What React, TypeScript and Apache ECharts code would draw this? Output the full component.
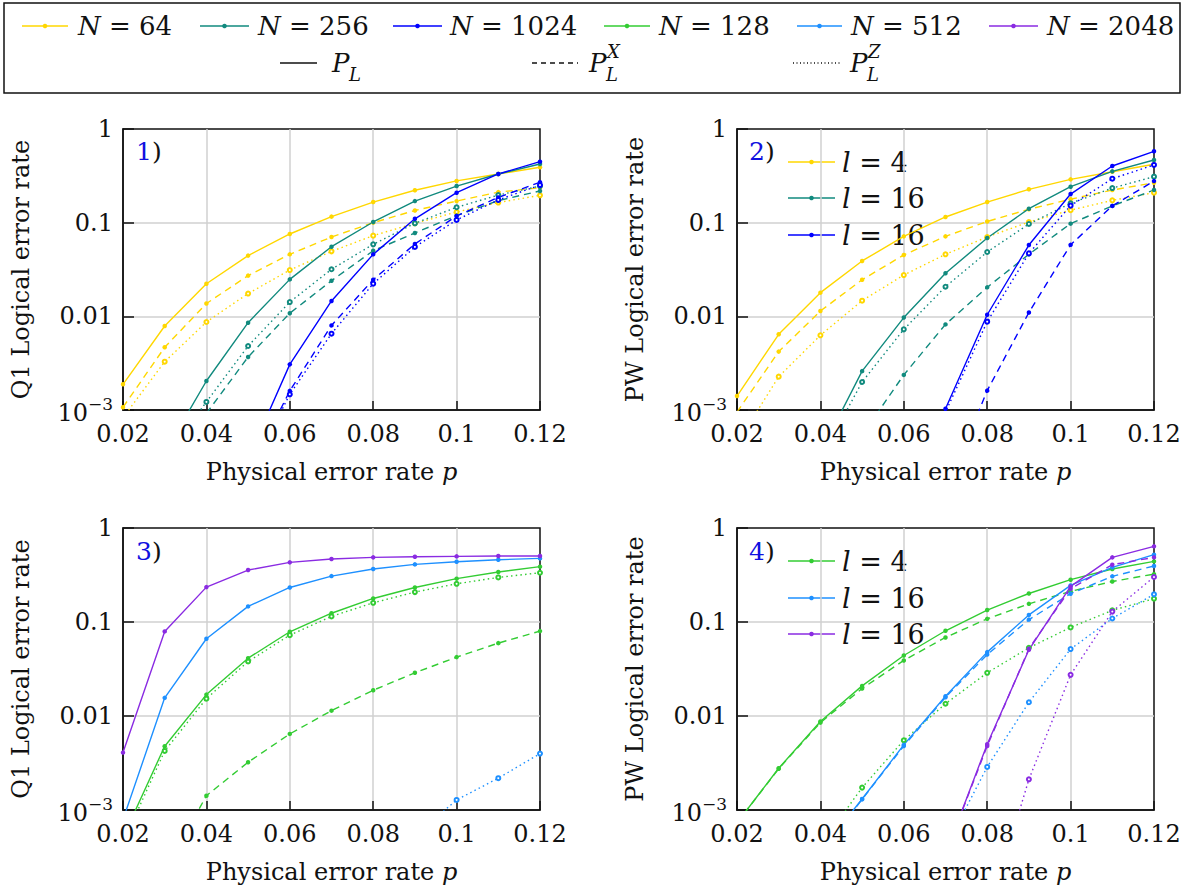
import React, { useEffect, useRef } from 'react';
import * as echarts from 'echarts';

const FONT = '"DejaVu Serif", serif';
const INK = '#111111';

// Physical error rates (x)
const P = [0.02, 0.03, 0.04, 0.05, 0.06, 0.07, 0.08, 0.09, 0.1, 0.11, 0.12];

const YELLOW = '#ffd700';
const TEAL = '#118a7e';
const BLUE = '#0000ff';
const GREEN = '#33cc33';
const LIGHTBLUE = '#1e90ff';
const PURPLE = '#8a2be2';

// Panel 1: Q1, N = 64 / 256 / 1024
const q1N64PL = [0.00188, 0.00788, 0.0223, 0.0445, 0.0757, 0.116, 0.166, 0.222, 0.279, 0.331, 0.39];
const q1N64PX = [0.00107, 0.00467, 0.0137, 0.0272, 0.0459, 0.0703, 0.1, 0.135, 0.17, 0.212, 0.236];
const q1N64PZ = [0.00083, 0.00328, 0.0087, 0.0175, 0.0312, 0.0494, 0.0727, 0.0984, 0.13, 0.164, 0.196];
const q1N256PL = [null, 0.00035, 0.00204, 0.00855, 0.0248, 0.0554, 0.1017, 0.17, 0.246, 0.331, 0.423];
const q1N256PX = [null, null, 0.00092, 0.00368, 0.0108, 0.024, 0.0502, 0.0776, 0.119, 0.172, 0.218];
const q1N256PZ = [null, 0.0003, 0.00122, 0.00482, 0.0142, 0.0318, 0.0587, 0.0984, 0.146, 0.197, 0.246];
const q1N1024PL = [null, null, null, 0.0003, 0.00307, 0.0146, 0.0459, 0.11, 0.209, 0.331, 0.448];
const q1N1024PX = [null, null, null, 0.00021, 0.0016, 0.008, 0.0246, 0.0592, 0.118, 0.186, 0.27];
const q1N1024PZ = [null, null, null, 0.0002, 0.00147, 0.00653, 0.0223, 0.055, 0.107, 0.175, 0.252];

// Panel 2: PW, l = 4 / 16 / 16
const pwA4PL = [0.00141, 0.00643, 0.0179, 0.039, 0.0714, 0.115, 0.166, 0.227, 0.29, 0.35, 0.42];
const pwA4PX = [0.00095, 0.0042, 0.0114, 0.0246, 0.0452, 0.0714, 0.103, 0.139, 0.178, 0.223, 0.267];
const pwA4PZ = [0.00044, 0.00227, 0.00627, 0.0147, 0.0276, 0.0459, 0.0703, 0.1016, 0.136, 0.173, 0.209];
const pwA16PL = [null, null, 0.00035, 0.0026, 0.0097, 0.0288, 0.0686, 0.141, 0.242, 0.353, 0.467];
const pwA16PX = [null, null, null, 0.00054, 0.00237, 0.0082, 0.0204, 0.046, 0.0976, 0.151, 0.223];
const pwA16PZ = [null, null, 0.0003, 0.00199, 0.00726, 0.0207, 0.0486, 0.0968, 0.161, 0.234, 0.31];
const pwB16PL = [null, null, null, null, 0.0001, 0.00103, 0.0104, 0.0577, 0.202, 0.403, 0.578];
const pwB16PX = [null, null, null, null, null, 0.00013, 0.00161, 0.011, 0.058, 0.151, 0.278];
const pwB16PZ = [null, null, null, null, 0.0001, 0.00095, 0.00877, 0.047, 0.152, 0.295, 0.413];

// Panel 3: Q1, N = 128 / 512 / 2048
const q1N128PL = [0.00051, 0.00477, 0.0169, 0.0412, 0.0787, 0.124, 0.178, 0.233, 0.289, 0.34, 0.388];
const q1N128PX = [null, 0.00022, 0.00142, 0.00322, 0.00645, 0.0114, 0.0188, 0.0288, 0.0423, 0.0596, 0.08];
const q1N128PZ = [0.00045, 0.00425, 0.0153, 0.038, 0.0725, 0.1146, 0.16, 0.208, 0.255, 0.298, 0.334];
const q1N512PL = [0.00079, 0.0156, 0.0663, 0.1465, 0.233, 0.308, 0.366, 0.41, 0.438, 0.46, 0.475];
const q1N512PZ = [null, null, null, null, null, null, null, 0.00053, 0.00128, 0.00218, 0.00398];
const q1N2048PL = [0.00408, 0.0794, 0.235, 0.357, 0.431, 0.468, 0.487, 0.495, 0.499, 0.503, 0.503];

// Panel 4: PW, l = 4 / 16 / 16
const pwC4PL = [0.00073, 0.00278, 0.00873, 0.0209, 0.044, 0.0807, 0.134, 0.201, 0.282, 0.366, 0.442];
const pwC4PX = [0.00073, 0.00275, 0.0085, 0.0196, 0.039, 0.0685, 0.108, 0.156, 0.212, 0.27, 0.323];
const pwC4PZ = [null, null, 0.00042, 0.00173, 0.00552, 0.0135, 0.0288, 0.0532, 0.0875, 0.133, 0.177];
const pwC16PL = [null, null, 0.00036, 0.00131, 0.00493, 0.01625, 0.0478, 0.119, 0.245, 0.381, 0.52];
const pwC16PX = [null, null, 0.00034, 0.0013, 0.0048, 0.0158, 0.045, 0.106, 0.2, 0.306, 0.394];
const pwC16PZ = [null, null, null, null, null, 0.0004, 0.00287, 0.014, 0.0515, 0.109, 0.197];
const pwD16PL = [null, null, null, null, null, 0.00034, 0.00501, 0.0506, 0.239, 0.487, 0.638];
const pwD16PX = [null, null, null, null, null, 0.00034, 0.0048, 0.052, 0.226, 0.407, 0.487];
const pwD16PZ = [null, null, null, null, null, null, 0.00007, 0.00212, 0.0274, 0.129, 0.301];

const LEGEND_N = ['64', '256', '1024', '128', '512', '2048'];
const LEGEND_N_COLORS = [YELLOW, TEAL, BLUE, GREEN, LIGHTBLUE, PURPLE];
const PANEL_Y_NAMES = ['Q1 Logical error rate', 'PW Logical error rate', 'Q1 Logical error rate', 'PW Logical error rate'];
const PANEL_TAGS = ['1', '2', '3', '4'];
const INSET_LABELS = ['4', '16', '16'];
const INSET_COLORS_2 = [YELLOW, TEAL, BLUE];
const INSET_COLORS_4 = [GREEN, LIGHTBLUE, PURPLE];

type Kind = 'PL' | 'PX' | 'PZ';

const CURVES: [number, string, Kind, (number | null)[]][] = [
  [0, YELLOW, 'PL', q1N64PL], [0, YELLOW, 'PX', q1N64PX], [0, YELLOW, 'PZ', q1N64PZ],
  [0, TEAL, 'PL', q1N256PL], [0, TEAL, 'PX', q1N256PX], [0, TEAL, 'PZ', q1N256PZ],
  [0, BLUE, 'PL', q1N1024PL], [0, BLUE, 'PX', q1N1024PX], [0, BLUE, 'PZ', q1N1024PZ],
  [1, YELLOW, 'PL', pwA4PL], [1, YELLOW, 'PX', pwA4PX], [1, YELLOW, 'PZ', pwA4PZ],
  [1, TEAL, 'PL', pwA16PL], [1, TEAL, 'PX', pwA16PX], [1, TEAL, 'PZ', pwA16PZ],
  [1, BLUE, 'PL', pwB16PL], [1, BLUE, 'PX', pwB16PX], [1, BLUE, 'PZ', pwB16PZ],
  [2, GREEN, 'PL', q1N128PL], [2, GREEN, 'PX', q1N128PX], [2, GREEN, 'PZ', q1N128PZ],
  [2, LIGHTBLUE, 'PL', q1N512PL], [2, LIGHTBLUE, 'PZ', q1N512PZ],
  [2, PURPLE, 'PL', q1N2048PL],
  [3, GREEN, 'PL', pwC4PL], [3, GREEN, 'PX', pwC4PX], [3, GREEN, 'PZ', pwC4PZ],
  [3, LIGHTBLUE, 'PL', pwC16PL], [3, LIGHTBLUE, 'PX', pwC16PX], [3, LIGHTBLUE, 'PZ', pwC16PZ],
  [3, PURPLE, 'PL', pwD16PL], [3, PURPLE, 'PX', pwD16PX], [3, PURPLE, 'PZ', pwD16PZ],
];

const GRIDS = [
  { left: 123, top: 129, width: 417, height: 281 },
  { left: 737, top: 129, width: 417, height: 281 },
  { left: 123, top: 528, width: 417, height: 282 },
  { left: 737, top: 528, width: 417, height: 282 },
];

function dashOf(kind: Kind): any {
  if (kind === 'PL') return 'solid';
  if (kind === 'PX') return [7, 5];
  return [1.5, 3.2];
}

function buildOption() {
  const series = CURVES.map(([panel, color, kind, vals], idx) => ({
    type: 'line',
    name: 's' + idx,
    xAxisIndex: panel,
    yAxisIndex: panel,
    data: P.map((p, i) => [p, vals[i]]).filter((d) => d[1] != null),
    clip: true,
    symbol: kind === 'PZ' ? 'emptyCircle' : 'circle',
    symbolSize: kind === 'PZ' ? 4 : 4.5,
    showSymbol: true,
    silent: true,
    lineStyle: { color, width: 1.4, type: dashOf(kind) },
    itemStyle: { color, borderColor: color, borderWidth: kind === 'PZ' ? 1 : 0 },
    emphasis: { disabled: true },
  }));

  const xAxis = GRIDS.map((_, i) => ({
    type: 'value',
    gridIndex: i,
    min: 0.02,
    max: 0.12,
    interval: 0.02,
    axisLine: { show: true, onZero: false, lineStyle: { color: INK, width: 1.5 } },
    axisTick: { show: true, inside: true, length: 9, lineStyle: { color: INK, width: 1.5 } },
    axisLabel: {
      fontFamily: FONT, fontSize: 24, color: INK, margin: 12,
      formatter: (v: number) => String(parseFloat(v.toFixed(2))),
    },
    splitLine: { show: true, showMinLine: false, showMaxLine: false, lineStyle: { color: '#d0d0d0', width: 1.5 } },
    name: 'Physical error rate {i|p}',
    nameLocation: 'middle',
    nameGap: 50,
    nameTextStyle: {
      fontFamily: FONT, fontSize: 24, color: INK,
      rich: { i: { fontFamily: FONT, fontSize: 24, color: INK, fontStyle: 'italic' } },
    },
  }));

  const yAxis = GRIDS.map((_, i) => ({
    type: 'log',
    logBase: 10,
    gridIndex: i,
    min: 0.001,
    max: 1,
    axisLine: { show: true, onZero: false, lineStyle: { color: INK, width: 1.5 } },
    axisTick: { show: true, inside: true, length: 11, lineStyle: { color: INK, width: 1.5 } },
    minorTick: { show: false },
    axisLabel: {
      fontFamily: FONT, fontSize: 24, color: INK, margin: 10,
      formatter: (v: number) => {
        const e = Math.round(Math.log10(v));
        if (e === 0) return '1';
        if (e === -1) return '0.1';
        if (e === -2) return '0.01';
        return '{a|10}{b|−3}';
      },
      rich: {
        a: { fontFamily: FONT, fontSize: 24, color: INK, lineHeight: 30, verticalAlign: 'bottom' },
        b: { fontFamily: FONT, fontSize: 17, color: INK, lineHeight: 20, verticalAlign: 'top' },
      },
    },
    splitLine: { show: true, showMinLine: false, showMaxLine: false, lineStyle: { color: '#d0d0d0', width: 1.5 } },
    name: PANEL_Y_NAMES[i],
    nameLocation: 'middle',
    nameGap: 90,
    nameRotate: 90,
    nameTextStyle: { fontFamily: FONT, fontSize: 24, color: INK },
  }));

  const grid = GRIDS.map((g) => ({
    ...g,
    show: true,
    borderColor: INK,
    borderWidth: 1.5,
    backgroundColor: 'transparent',
    containLabel: false,
  }));

  const graphic: any[] = [];
  // Main legend box
  graphic.push({
    type: 'rect', shape: { x: 4, y: 3, width: 1176, height: 90 },
    style: { fill: 'none', stroke: INK, lineWidth: 1.5 }, silent: true,
  });
  const row1 = [
    [22, 68, 78], [200, 249, 258], [393, 442, 450], [604, 650, 659], [797, 842, 851], [989, 1038, 1047],
  ];
  row1.forEach(([x0, x1, tx], k) => {
    const c = LEGEND_N_COLORS[k];
    graphic.push({ type: 'line', shape: { x1: x0, y1: 26, x2: x1, y2: 26 }, style: { stroke: c, lineWidth: 1.5 }, silent: true });
    graphic.push({ type: 'circle', shape: { cx: (x0 + x1) / 2, cy: 26, r: 2.3 }, style: { fill: c }, silent: true });
    graphic.push({
      type: 'text', x: tx, y: 26, silent: true,
      style: {
        text: '{i|N} = ' + LEGEND_N[k], fontFamily: FONT, fontSize: 26, fill: INK, verticalAlign: 'middle', align: 'left',
        rich: { i: { fontFamily: FONT, fontSize: 26, fill: INK, fontStyle: 'italic' } },
      },
    });
  });
  const row2: [number, number, number, any, string | null][] = [
    [280, 317, 332, 'solid', null],
    [532, 578, 589, [5, 4], 'X'],
    [793, 842, 850, [1, 2.5], 'Z'],
  ];
  row2.forEach(([x0, x1, tx, dash, sup]) => {
    graphic.push({ type: 'line', shape: { x1: x0, y1: 63, x2: x1, y2: 63 }, style: { stroke: INK, lineWidth: 1.3, lineDash: dash === 'solid' ? null : dash }, silent: true });
    graphic.push({ type: 'text', x: tx, y: 63, silent: true, style: { text: 'P', fontFamily: FONT, fontSize: 26, fontStyle: 'italic', fill: INK, verticalAlign: 'middle' } });
    graphic.push({ type: 'text', x: tx + 17, y: 74, silent: true, style: { text: 'L', fontFamily: FONT, fontSize: 18, fontStyle: 'italic', fill: INK, verticalAlign: 'middle' } });
    if (sup) graphic.push({ type: 'text', x: tx + 18, y: 51, silent: true, style: { text: sup, fontFamily: FONT, fontSize: 18, fontStyle: 'italic', fill: INK, verticalAlign: 'middle' } });
  });
  // Panel tags
  const tagPos = [[136, 151], [749, 151], [136, 551], [749, 551]];
  tagPos.forEach(([x, y], k) => {
    graphic.push({
      type: 'text', x, y, silent: true,
      style: {
        text: '{n|' + PANEL_TAGS[k] + '})', fontFamily: FONT, fontSize: 25, fill: INK, verticalAlign: 'middle',
        rich: { n: { fontFamily: FONT, fontSize: 25, fill: '#1010e0' } },
      },
    });
  });
  // Inset legends in panels 2 and 4
  const insets: [number[], string[]][] = [
    [[162, 198, 235], INSET_COLORS_2],
    [[561, 598, 634], INSET_COLORS_4],
  ];
  insets.forEach(([ys, cols]) => {
    ys.forEach((y, k) => {
      graphic.push({ type: 'line', shape: { x1: 788, y1: y, x2: 835, y2: y }, style: { stroke: cols[k], lineWidth: 1.5 }, silent: true });
      graphic.push({ type: 'circle', shape: { cx: 811.5, cy: y, r: 2.3 }, style: { fill: cols[k] }, silent: true });
      graphic.push({
        type: 'text', x: 842, y, silent: true,
        style: {
          text: '{i|l} = ' + INSET_LABELS[k], fontFamily: FONT, fontSize: 27, fill: INK, verticalAlign: 'middle',
          rich: { i: { fontFamily: FONT, fontSize: 27, fill: INK, fontStyle: 'italic' } },
        },
      });
    });
  });

  return {
    animation: false,
    backgroundColor: '#ffffff',
    textStyle: { fontFamily: FONT },
    grid,
    xAxis,
    yAxis,
    series,
    graphic,
  };
}

export default function App() {
  const ref = useRef<HTMLDivElement>(null);
  useEffect(() => {
    if (!ref.current) return;
    const chart = echarts.init(ref.current, null, { renderer: 'svg' });
    chart.setOption(buildOption() as any);
    return () => chart.dispose();
  }, []);
  return (
    <div
      ref={ref}
      style={{ position: 'fixed', left: 0, top: 0, width: 1184, height: 890, background: '#fff' }}
    />
  );
}
